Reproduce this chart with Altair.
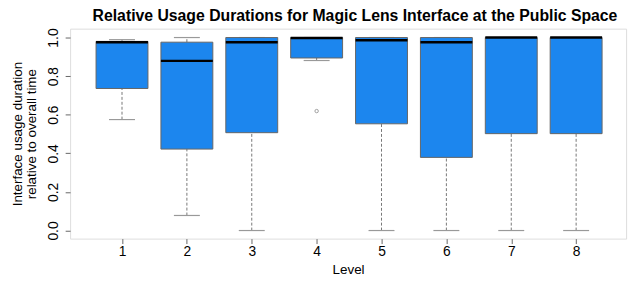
import altair as alt
import pandas as pd

levels = [1, 2, 3, 4, 5, 6, 7, 8]
lower = [0.575, 0.078, 0.0, 0.881, 0.0, 0.0, 0.0, 0.0]
q1 = [0.736, 0.422, 0.507, 0.894, 0.553, 0.379, 0.502, 0.502]
median = [0.976, 0.879, 0.976, 0.998, 0.986, 0.976, 1.0, 1.0]
q3 = [0.980, 0.976, 1.0, 1.0, 1.0, 1.0, 1.0, 1.0]
upper = [0.989, 1.0, 1.0, 1.0, 1.0, 1.0, 1.0, 1.0]
outlier_levels = [4]
outlier_values = [0.619]

y_ticks = [0.0, 0.2, 0.4, 0.6, 0.8, 1.0]

df = pd.DataFrame({"level": levels, "lower": lower, "q1": q1,
                   "median": median, "q3": q3, "upper": upper})
out_df = pd.DataFrame({"level": outlier_levels, "value": outlier_values})

FONT = "Liberation Sans"
BLUE = "#1C86EE"
FS = 14

xscale = alt.Scale(domain=[0.2, 8.77], nice=False, zero=False)
yscale = alt.Scale(domain=[-0.042, 1.046], nice=False, zero=False)

xaxis = alt.Axis(values=levels, format="d", title="Level", labelFontSize=FS, titleFontSize=13.6,
                 titleFontWeight="normal", tickSize=5, tickColor="#666", domain=False,
                 grid=False, labelPadding=1, titleBaseline="alphabetic", titleY=35,
                 labelColor="black", titleColor="black", labelFont=FONT, titleFont=FONT)
yaxis = alt.Axis(values=y_ticks, format=".1f", labelAngle=270, labelAlign="center",
                 labelBaseline="bottom", labelFontSize=FS, tickSize=5, tickColor="#666",
                 domain=False, grid=False, labelPadding=5,
                 title=["Interface usage duration", "relative to overall time"],
                 titleFontSize=13.6, titleFontWeight="normal", titleAngle=270,
                 titleAlign="center", titleBaseline="top", titleX=-60, titleY=106.5,
                 titleLineHeight=14.3, labelColor="black", titleColor="black",
                 labelFont=FONT, titleFont=FONT)

base = alt.Chart(df).transform_calculate(
    xl="datum.level - 0.4", xr="datum.level + 0.4",
    cl="datum.level - 0.2", cr="datum.level + 0.2")

whisk_lo = base.mark_rule(color="#777", strokeDash=[3, 2], strokeWidth=1).encode(
    x=alt.X("level:Q", scale=xscale, axis=xaxis),
    y=alt.Y("lower:Q", scale=yscale, axis=yaxis),
    y2="q1:Q")
whisk_hi = base.mark_rule(color="#777", strokeDash=[3, 2], strokeWidth=1).encode(
    x=alt.X("level:Q", scale=xscale), y=alt.Y("q3:Q", scale=yscale), y2="upper:Q")
cap_lo = base.mark_rule(color="#999", strokeWidth=1.2).encode(
    x=alt.X("cl:Q", scale=xscale), x2="cr:Q", y=alt.Y("lower:Q", scale=yscale))
cap_hi = base.mark_rule(color="#999", strokeWidth=1.2).encode(
    x=alt.X("cl:Q", scale=xscale), x2="cr:Q", y=alt.Y("upper:Q", scale=yscale))
box = base.mark_rect(fill=BLUE, stroke="#666", strokeWidth=1).encode(
    x=alt.X("xl:Q", scale=xscale), x2="xr:Q",
    y=alt.Y("q1:Q", scale=yscale), y2="q3:Q")
med = base.mark_rule(color="black", strokeWidth=2.5).encode(
    x=alt.X("xl:Q", scale=xscale), x2="xr:Q", y=alt.Y("median:Q", scale=yscale))
outl = alt.Chart(out_df).mark_point(shape="circle", filled=False, color="#777",
                                    size=12, strokeWidth=1).encode(
    x=alt.X("level:Q", scale=xscale), y=alt.Y("value:Q", scale=yscale))

chart = alt.layer(whisk_lo, whisk_hi, cap_lo, cap_hi, box, med, outl).properties(
    width=564, height=213,
    title=alt.TitleParams("Relative Usage Durations for Magic Lens Interface at the Public Space",
                          fontSize=16, fontWeight="bold", font=FONT, color="black",
                          anchor="middle", frame="group", dx=7, offset=4),
    autosize=alt.AutoSizeParams(type="none"),
    padding={"left": 63, "top": 19, "right": 6, "bottom": 40},
).configure_view(stroke="#888", strokeWidth=1).configure(background="white")

chart.save("out.html", embed_options={"renderer": "svg", "actions": False})
